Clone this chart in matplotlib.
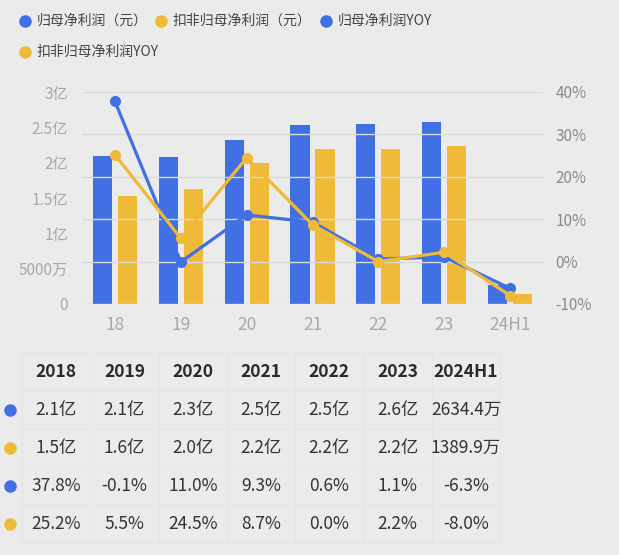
import matplotlib
matplotlib.use('Agg')
import matplotlib.pyplot as plt
import numpy as np

plt.rcParams['font.family'] = ['Noto Sans CJK SC', 'DejaVu Sans']

# data
years = ['18', '19', '20', '21', '22', '23', '24H1']
table_years = ['2018', '2019', '2020', '2021', '2022', '2023', '2024H1']
netProfit = [2.09e8, 2.08e8, 2.32e8, 2.53e8, 2.55e8, 2.57e8, 0.2634e8]
netProfitDed = [1.53e8, 1.63e8, 2.00e8, 2.19e8, 2.19e8, 2.23e8, 0.1390e8]
netProfitYoy = [37.8, -0.1, 11.0, 9.3, 0.6, 1.1, -6.3]
netProfitDedYoy = [25.2, 5.5, 24.5, 8.7, 0.0, 2.2, -8.0]
netProfitText = ['2.1亿', '2.1亿', '2.3亿', '2.5亿', '2.5亿', '2.6亿', '2634.4万']
netProfitDedText = ['1.5亿', '1.6亿', '2.0亿', '2.2亿', '2.2亿', '2.2亿', '1389.9万']
legendLabels = ['归母净利润（元）', '扣非归母净利润（元）', '归母净利润YOY', '扣非归母净利润YOY']
leftTicks = [0, 0.5e8, 1e8, 1.5e8, 2e8, 2.5e8, 3e8]
leftTickLabels = ['0', '5000万', '1亿', '1.5亿', '2亿', '2.5亿', '3亿']
rightTicks = [-10, 0, 10, 20, 30, 40]

BLUE = '#4070e4'
YELLOW = '#eeba38'
BG = '#ebebeb'
W, H = 619, 555

fig = plt.figure(figsize=(W / 100, H / 100), dpi=100, facecolor=BG)

# main chart: bars on the left axis, YOY lines on the right axis
ax = fig.add_axes([82 / W, 1 - 304 / H, (543 - 82) / W, (304 - 92) / H])
ax.set_facecolor(BG)
x = np.arange(len(years))
ax.bar(x - 0.19, netProfit, width=0.29, color=BLUE, zorder=2)
ax.bar(x + 0.19, netProfitDed, width=0.29, color=YELLOW, zorder=2)
ax.set_xlim(-0.5, len(years) - 0.5)
ax.set_ylim(0, 3e8)
ax.set_yticks(leftTicks)
ax.set_yticklabels(leftTickLabels)
ax.set_xticks(x)
ax.set_xticklabels(years)
ax.tick_params(axis='x', length=0, pad=9, labelsize=12.5, labelcolor='#a8a8a8')
ax.tick_params(axis='y', length=0, pad=10, labelsize=11, labelcolor='#a8a8a8')
for s in ax.spines.values():
    s.set_visible(False)

ax2 = ax.twinx()
ax2.set_ylim(-10, 40)
ax2.set_yticks(rightTicks)
ax2.set_yticklabels(['{}%'.format(t) for t in rightTicks])
ax2.tick_params(axis='y', length=0, pad=9, labelsize=11, labelcolor='#8a8a8a')
ax2.grid(axis='y', color='#dadada', linewidth=1)
ax2.set_axisbelow(True)
for s in ax2.spines.values():
    s.set_visible(False)
ax2.plot(x, netProfitYoy, color=BLUE, lw=2.3, marker='o', ms=7, zorder=3)
ax2.plot(x, netProfitDedYoy, color=YELLOW, lw=2.3, marker='o', ms=7, zorder=4)

# overlay in pixel coordinates for legend and table
ov = fig.add_axes([0, 0, 1, 1])
ov.set_xlim(0, W)
ov.set_ylim(H, 0)
ov.axis('off')
ov.patch.set_alpha(0)

legendPos = [(25, 21), (161, 21), (326, 21), (25, 52)]
legendColors = [BLUE, YELLOW, BLUE, YELLOW]
for (lx, ly), c, lab in zip(legendPos, legendColors, legendLabels):
    ov.plot(lx, ly, 'o', color=c, ms=8)
    ov.text(lx + 12, ly, lab, fontsize=10, color='#444444', va='center', ha='left')

# table
colLeft, colW = 22, 68.3
rowTop, rowH = 353, 38
nCols = len(table_years)
rows = [netProfitText, netProfitDedText,
        ['{:.1f}%'.format(v) for v in netProfitYoy],
        ['{:.1f}%'.format(v) for v in netProfitDedYoy]]
rowColors = [BLUE, YELLOW, BLUE, YELLOW]
for i in range(nCols + 1):
    xx = colLeft + i * colW
    ov.plot([xx, xx], [rowTop, rowTop + 5 * rowH], color='#e4e4e4', lw=0.6)
for j in range(6):
    yy = rowTop + j * rowH
    ov.plot([colLeft, colLeft + nCols * colW], [yy, yy], color='#e4e4e4', lw=0.6)
for i, yr in enumerate(table_years):
    ov.text(colLeft + (i + 0.5) * colW, rowTop + 0.5 * rowH, yr, fontsize=12.5,
            color='#2a2a2a', ha='center', va='center', fontweight='bold')
for j, (vals, c) in enumerate(zip(rows, rowColors)):
    cy = rowTop + (j + 1.5) * rowH
    ov.plot(10, cy, 'o', color=c, ms=8)
    for i, v in enumerate(vals):
        ov.text(colLeft + (i + 0.5) * colW, cy, v, fontsize=12.5,
                color='#333333', ha='center', va='center')

fig.savefig('out.png', dpi=100, facecolor=BG)
